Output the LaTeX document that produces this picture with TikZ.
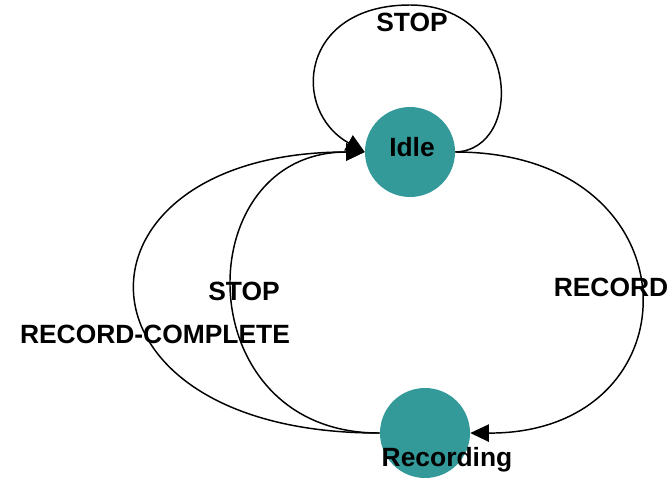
\documentclass[tikz,border=0pt]{standalone}
\usepackage{fontspec}
\setmainfont{Liberation Sans}
\usetikzlibrary{arrows.meta, positioning}
\definecolor{stateteal}{RGB}{51,153,153}

\begin{document}
\begin{tikzpicture}[
        x=0.75pt, y=-0.75pt,
        state/.style={circle, fill=stateteal, minimum size=67.5pt, inner sep=0pt},
        lbl/.style={font=\fontsize{19.8}{22}\selectfont\bfseries, inner sep=0pt},
        arr/.style={-{Triangle[length=14pt, width=13pt]}, line width=1.1pt},
        edge/.style={line width=1.1pt}
        ]
        \useasboundingbox (0,0) rectangle (671,478);
        \node[state] (idle) at (410,152) {};
        \node[state] (rec)  at (425,433) {};
        \node[lbl] (idletxt) at (412,147) {Idle};
        \node[lbl] (rectxt)  at (447,460) {Recording};
        % labels on the transitions
        \node[lbl] (stoploop) at (412,22)  {STOP};
        \node[lbl] (record)   at (611,287) {RECORD};
        \node[lbl] (stopback) at (244,291) {STOP};
        \node[lbl] (complete) at (155,334) {RECORD-COMPLETE};
        % transitions
        \draw[arr] (idle.east) .. controls (525,150) and (520,5) .. (410,5)
                   .. controls (300,5) and (290,110) .. (idle.west);
        \draw[arr] (idle.east) .. controls (700,152) and (700,434) .. (rec.east);
        \draw[arr] (rec.west) .. controls (186,434) and (186,152) .. (idle.west);
        \draw[arr] (rec.west) .. controls (57,434) and (57,152) .. (idle.west);
    \end{tikzpicture}
\end{document}
